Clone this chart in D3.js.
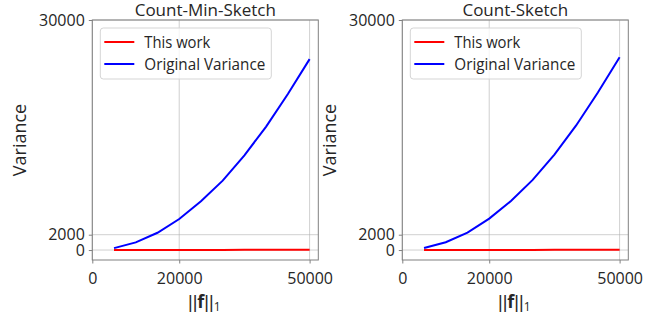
<!DOCTYPE html>
<html><head><meta charset="utf-8">
<script src="https://cdn.jsdelivr.net/npm/d3@7"></script>
<style>body{margin:0;background:#fff}svg{display:block}text{font-family:"Open Sans",sans-serif;fill:#262626}</style>
</head><body><svg id="c" width="665" height="320"></svg>
<script>
const titles = ["Count-Min-Sketch", "Count-Sketch"];
const seriesNames = ["This work", "Original Variance"];
const seriesColors = ["#ff0000", "#0000ff"];
const xValues = [5000, 10000, 15000, 20000, 25000, 30000, 35000, 40000, 45000, 50000];
const cmsThisWork = [10, 12, 14, 16, 18, 20, 22, 24, 26, 28];
const cmsOriginal = [250, 1000, 2250, 4050, 6350, 9050, 12350, 16100, 20350, 24900];
const csThisWork = [10, 12, 14, 16, 18, 20, 22, 24, 26, 28];
const csOriginal = [260, 1020, 2280, 4100, 6400, 9150, 12450, 16250, 20550, 25150];
const xTicks = [0, 20000, 50000];
const yTicks = [0, 2000, 30000];
const xDomain = [0, 52000];
const yDomain = [-1300, 30000];

const panels = [
  {title: titles[0], left: 92.3, series: [cmsThisWork, cmsOriginal]},
  {title: titles[1], left: 402.3, series: [csThisWork, csOriginal]}
];
const W = 226, plotTop = 20, plotBottom = 260;
const legendWidths = [66, 121];
const svg = d3.select("#c");

panels.forEach(p => {
  const g = svg.append("g").attr("transform", `translate(${p.left},0)`);
  const x = d3.scaleLinear().domain(xDomain).range([0, W]);
  const y = d3.scaleLinear().domain(yDomain).range([plotBottom, plotTop]);
  g.selectAll(".gx").data(xTicks).enter().append("line")
    .attr("x1", d => x(d)).attr("x2", d => x(d)).attr("y1", plotTop).attr("y2", plotBottom)
    .attr("stroke", "#b0b0b0").attr("stroke-opacity", 0.6).attr("stroke-width", 1);
  g.selectAll(".gy").data(yTicks).enter().append("line")
    .attr("x1", 0).attr("x2", W).attr("y1", d => y(d)).attr("y2", d => y(d))
    .attr("stroke", "#b0b0b0").attr("stroke-opacity", 0.6).attr("stroke-width", 1);
  g.append("rect").attr("x", 0).attr("y", plotTop).attr("width", W).attr("height", plotBottom - plotTop)
    .attr("fill", "none").attr("stroke", "#808080").attr("stroke-width", 1);
  const xa = g.append("g").attr("transform", `translate(0,${plotBottom})`)
    .call(d3.axisBottom(x).tickValues(xTicks).tickSize(3.5).tickPadding(5).tickFormat(d3.format("d")));
  const ya = g.append("g")
    .call(d3.axisLeft(y).tickValues(yTicks).tickSize(3.5).tickPadding(4).tickFormat(d3.format("d")));
  [xa, ya].forEach(a => {
    a.select(".domain").remove();
    a.selectAll(".tick line").attr("stroke", "#808080");
    a.selectAll(".tick text").attr("font-size", 16).attr("fill", "#262626")
      .style("font-family", '"Open Sans", sans-serif');
  });
  xa.selectAll(".tick text").attr("dy", "0.95em");
  const line = d3.line().x((d, i) => x(xValues[i])).y(d => y(d));
  p.series.forEach((s, k) => {
    g.append("path").datum(s).attr("d", line).attr("fill", "none")
      .attr("stroke", seriesColors[k]).attr("stroke-width", 2);
  });
  g.append("text").attr("x", W / 2).attr("y", 16).attr("text-anchor", "middle")
    .attr("font-size", 17).text(p.title);
  g.append("text").attr("transform", `translate(${-66},140) rotate(-90)`)
    .attr("text-anchor", "middle").attr("font-size", 18).text("Variance");
  const xl = g.append("text").attr("x", W / 2 - 1).attr("y", 308).attr("text-anchor", "middle")
    .attr("font-size", 18).style("font-family", '"Liberation Sans", sans-serif');
  xl.append("tspan").text("||");
  xl.append("tspan").attr("font-weight", "bold").style("font-family", '"Open Sans", sans-serif').text("f");
  xl.append("tspan").text("||");
  xl.append("tspan").attr("font-size", 12).attr("dy", 3).style("font-family", '"Open Sans", sans-serif').text("1");
  const lg = g.append("g").attr("transform", "translate(8,8)");
  lg.append("rect").attr("x", 0).attr("y", 20).attr("width", 171).attr("height", 51).attr("rx", 3)
    .attr("fill", "#fff").attr("fill-opacity", 0.8).attr("stroke", "#d5d5d5").attr("stroke-width", 1);
  seriesNames.forEach((n, k) => {
    const yy = 34 + k * 22;
    lg.append("line").attr("x1", 4).attr("x2", 34).attr("y1", yy).attr("y2", yy)
      .attr("stroke", seriesColors[k]).attr("stroke-width", 2);
    lg.append("text").attr("x", 44).attr("y", yy).attr("dy", "0.36em").attr("font-size", 17)
      .attr("textLength", legendWidths[k]).attr("lengthAdjust", "spacingAndGlyphs").text(n);
  });
});
</script></body></html>
